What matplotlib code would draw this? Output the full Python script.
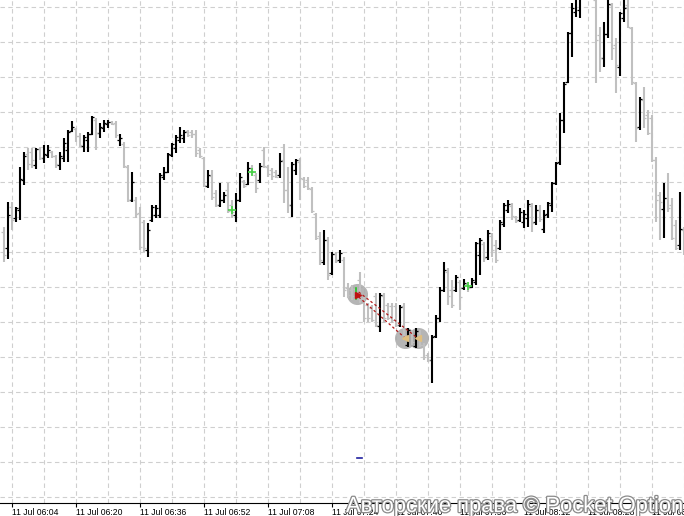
import numpy as np
import pandas as pd
import matplotlib.pyplot as plt
from matplotlib import patheffects

plt.rcParams.update({
    "font.family": "Liberation Sans",
})

# one bar per minute, first bar at 06:02 on 11 Jul
start_time = "2024-07-11 06:02"

opens = [268, 252, 293, 282, 290, 320, 346, 348, 335, 351, 342, 345, 348, 344, 335, 342, 350, 369, 371, 364,
         354, 360, 366, 380, 367, 372, 376, 378, 377, 360, 356, 333, 300, 300, 287, 278, 250, 280, 285, 285,
         323, 328, 345, 352, 360, 362, 369, 368, 366, 350, 342, 314, 324, 307, 295, 300, 310, 295, 285, 300,
         319, 316, 332, 325, 320, 350, 333, 330, 328, 325, 340, 310, 295, 330, 338, 321, 320, 311, 286, 264,
         238, 260, 227, 246, 240, 240, 212, 210, 211, 220, 201, 195, 192, 204, 174, 204, 195, 194, 194, 175,
         194, 155, 168, 154, 167, 155, 145, 140, 164, 182, 210, 228, 210, 210, 218, 212, 216, 213, 218, 245,
         256, 243, 264, 255, 252, 276, 290, 294, 283, 280, 278, 282, 294, 278, 290, 271, 286, 295, 317, 338,
         380, 418, 467, 488, 490, 508, 535, 520, 500, 465, 442, 466, 495, 455, 433, 482, 495, 472, 417, 373,
         400, 385, 382, 340, 305, 291, 302, 295, 275, 255, 270]
highs = [273, 298, 298, 293, 333, 348, 352, 352, 352, 353, 355, 355, 349, 345, 348, 362, 370, 379, 372, 367,
         365, 368, 384, 382, 377, 380, 380, 379, 379, 366, 358, 335, 328, 303, 293, 280, 277, 295, 295, 327,
         333, 347, 357, 365, 373, 370, 370, 370, 370, 352, 343, 330, 330, 310, 317, 308, 317, 300, 307, 327,
         320, 338, 335, 327, 337, 353, 335, 332, 330, 347, 356, 333, 338, 341, 342, 323, 323, 313, 287, 268,
         270, 263, 248, 248, 250, 243, 217, 215, 213, 228, 203, 197, 195, 207, 207, 207, 197, 197, 197, 195,
         197, 172, 170, 172, 170, 157, 147, 165, 185, 213, 238, 232, 220, 225, 220, 221, 218, 222, 258, 262,
         258, 270, 267, 260, 280, 297, 300, 297, 284, 292, 290, 300, 297, 295, 295, 290, 298, 318, 338, 387,
         418, 468, 497, 510, 515, 540, 545, 530, 508, 473, 478, 505, 497, 462, 488, 505, 503, 473, 418, 403,
         413, 390, 385, 343, 308, 317, 327, 302, 280, 308, 273]
lows = [238, 241, 270, 278, 280, 315, 330, 332, 331, 340, 337, 342, 342, 332, 330, 338, 338, 368, 358, 353,
        348, 348, 365, 350, 362, 368, 372, 375, 362, 354, 332, 298, 298, 282, 250, 248, 243, 278, 282, 282,
        320, 327, 343, 347, 357, 357, 363, 362, 343, 342, 313, 312, 300, 293, 293, 297, 287, 282, 278, 298,
        312, 315, 325, 307, 317, 332, 323, 320, 322, 322, 297, 287, 283, 325, 300, 312, 310, 287, 260, 235,
        235, 220, 225, 237, 237, 203, 202, 200, 200, 197, 178, 178, 178, 173, 168, 177, 180, 177, 173, 173,
        160, 153, 155, 152, 153, 140, 138, 117, 162, 178, 208, 195, 192, 208, 190, 210, 208, 212, 215, 225,
        238, 240, 243, 237, 250, 273, 287, 280, 277, 278, 272, 273, 268, 275, 278, 267, 282, 288, 315, 335,
        367, 417, 443, 483, 482, 505, 510, 502, 417, 428, 433, 462, 440, 407, 424, 478, 472, 415, 358, 370,
        372, 365, 338, 278, 260, 262, 288, 260, 250, 250, 245]
closes = [245, 285, 280, 292, 321, 344, 336, 340, 351, 342, 346, 350, 344, 336, 344, 357, 368, 373, 364, 355,
          363, 366, 383, 367, 373, 377, 378, 376, 365, 362, 334, 300, 318, 286, 253, 252, 270, 293, 292, 325,
          328, 346, 356, 363, 365, 368, 365, 366, 347, 344, 315, 325, 303, 295, 300, 305, 289, 288, 300, 323,
          314, 332, 328, 312, 334, 334, 326, 324, 323, 339, 310, 295, 336, 340, 322, 314, 312, 289, 262, 240,
          260, 225, 246, 239, 247, 210, 205, 204, 203, 202, 182, 182, 180, 175, 205, 182, 182, 180, 175, 193,
          164, 170, 158, 169, 155, 143, 140, 163, 182, 210, 230, 204, 195, 223, 203, 217, 212, 220, 257, 260,
          242, 267, 250, 240, 278, 295, 296, 284, 279, 288, 286, 296, 277, 290, 281, 285, 297, 317, 337, 380,
          416, 467, 492, 503, 508, 535, 515, 505, 460, 442, 466, 496, 452, 435, 487, 492, 473, 418, 372, 401,
          382, 367, 340, 300, 298, 302, 292, 262, 252, 271, 260]

# trade marks
entry_bar, entry_price = 88.4, 206
exit_bars = [100.4, 103.5]
exit_prices = [162, 162]
deal_bars = [57, 62, 116]
deal_prices = [290, 328, 214]
level_bar, level_price = 89, 42

n = len(closes)
bars = np.arange(n)
times = pd.date_range(start_time, periods=n, freq="min")
up = np.array(closes) >= np.array(opens)
colors = np.where(up, "#000000", "#c0c0c0")

fig = plt.figure(figsize=(6.84, 5.16), dpi=100)
ax = fig.add_axes([0, 13.5 / 516, 1, 502.5 / 516])
ax.set_xlim(-0.875, 170.125)
ax.set_ylim(-2.5, 500)

# grid
for g in range(2, n, 8):
    ax.axvline(g, color="#cfcfcf", lw=0.8, ls=(0, (4, 3)), zorder=0)
for lvl in np.arange(3.3, 500, 35):
    ax.axhline(lvl, color="#cfcfcf", lw=0.8, ls=(0, (4, 3)), zorder=0)

# trade circles behind the bars
ax.scatter([entry_bar] + exit_bars, [entry_price] + exit_prices, s=230,
           color="#a8a8a8", alpha=0.85, lw=0, zorder=1)

ax.vlines(bars, lows, highs, colors=colors, lw=1.5, zorder=2)
ax.hlines(opens, bars - 0.55, bars, colors=colors, lw=0.9, zorder=2)
ax.hlines(closes, bars, bars + 0.55, colors=colors, lw=0.9, zorder=2)

# trade lines and arrows
for xb, yp, dy in zip(exit_bars, exit_prices, [-3, 2]):
    ax.plot([entry_bar + 0.4, xb], [entry_price + dy, yp], color="#b01818",
            lw=0.9, ls=(0, (2, 2)), zorder=3)
ax.plot([entry_bar - 0.4] * 2, [entry_price - 5, entry_price + 6], color="#20c020", lw=1.2, zorder=4)
ax.plot(entry_bar + 0.3, entry_price - 1, marker=">", ms=5, color="#c01010", zorder=4)
ax.plot(exit_bars, exit_prices, ls="none", marker="<", ms=5, color="#e0bf80", zorder=4)
ax.plot(deal_bars, deal_prices, ls="none", marker="+", ms=6, mew=1.2, color="#44d044", zorder=4)
ax.plot([level_bar - 0.6, level_bar + 0.6], [level_price] * 2, color="#2020a0", lw=1.2, zorder=4)

for side in ["top", "left", "right"]:
    ax.spines[side].set_visible(False)
ax.spines["bottom"].set_linewidth(0.8)
ax.set_yticks([])

label_idx = list(range(2, n, 16))
ax.set_xticks(label_idx)
ax.set_xticklabels([t.strftime("%d %b %H:%M") for t in times[label_idx]],
                   fontsize=6.2, ha="left")
ax.tick_params(axis="x", length=3, width=0.8, pad=1)

fig.text(346 / 684, 4 / 516, "Авторские права © Pocket Option", fontsize=15.8,
         color="white", ha="left", va="baseline",
         path_effects=[patheffects.withStroke(linewidth=1.8, foreground="#8a8a8a")])

fig.savefig("out.png", dpi=100)
